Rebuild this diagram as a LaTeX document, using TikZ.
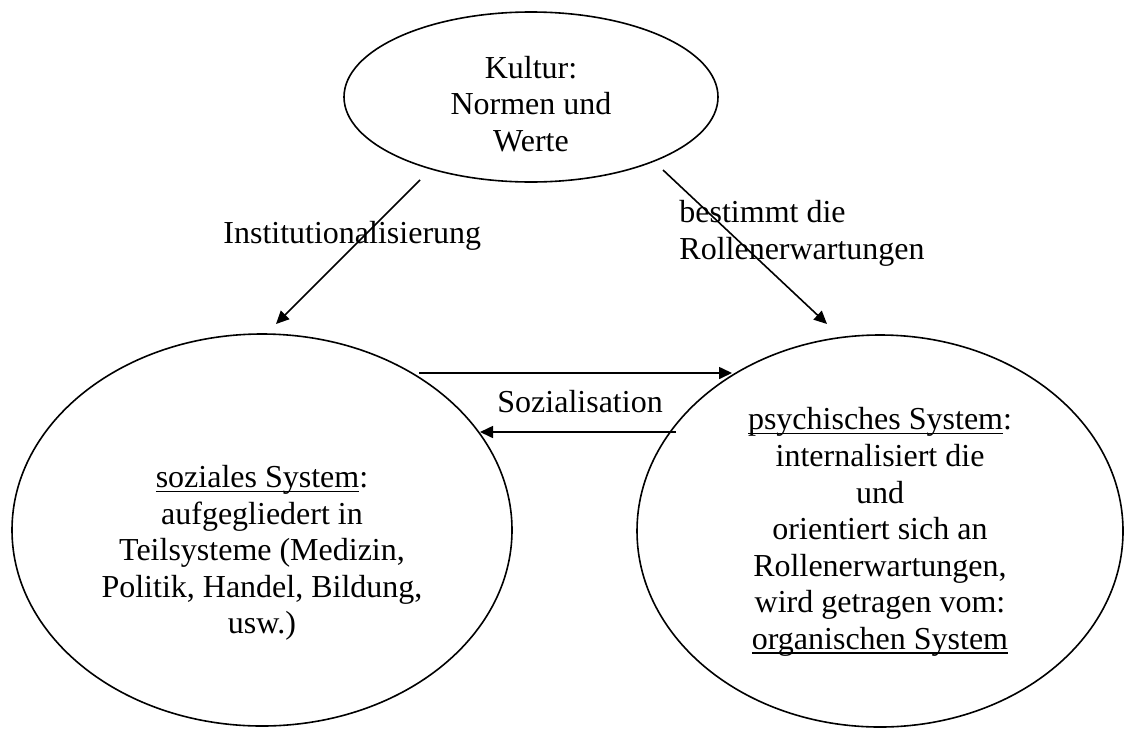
\documentclass[tikz,border=0pt]{standalone}
\usepackage{fontspec}
\setmainfont{Liberation Serif}
\usetikzlibrary{arrows.meta,positioning,shapes.geometric}
% underline close to the baseline
\newcommand{\undl}[1]{\setbox0\hbox{#1}\rlap{\rule[-2.2pt]{\wd0}{0.7pt}}\box0}

\begin{document}
\begin{tikzpicture}[
  x=0.5pt, y=-0.5pt,
  every node/.style={font=\fontsize{16}{18.3}\selectfont},
  sys/.style={draw, ellipse, line width=0.8pt, inner sep=0pt},
  txt/.style={align=center, inner sep=0pt},
  lbl/.style={inner sep=0pt},
  arr/.style={-{Triangle[length=6.5pt,width=6pt]}, line width=0.8pt}
]
\useasboundingbox (0,0) rectangle (1138,728);
% ellipses
\node[sys, minimum width=187pt, minimum height=85pt] (kultur) at (531,97) {};
\node[sys, minimum width=250pt, minimum height=196pt] (sozial) at (262,530) {};
\node[sys, minimum width=243pt, minimum height=196pt] (psych) at (880,531) {};
% texts in the ellipses
\node[txt] (kulturtxt) at (531,104) {Kultur:\\ Normen und\\ Werte};
\node[txt] (sozialtxt) at (262,553) {\undl{soziales System}:\\ aufgegliedert in\\
  Teilsysteme (Medizin,\\ Politik, Handel, Bildung,\\ usw.)};
\node[txt] (psychtxt) at (880,532) {\undl{psychisches System}:\\ internalisiert die\\ und\\
  orientiert sich an\\ Rollenerwartungen,\\ wird getragen vom:\\ \undl{organischen System}};
% arrow ends
\coordinate (i1) at (420,180);
\coordinate (i2) at (276,324);
\coordinate (b1) at (663,170);
\coordinate (b2) at (827,324);
\coordinate (s1) at (419,373);
\coordinate (s2) at (732,373);
\coordinate (s3) at (676,432);
\coordinate (s4) at (480,432);
% labels
\node[lbl, anchor=base west] (inst) at (223,243) {Institutionalisierung};
\node[lbl, anchor=north west, align=left] (best) at (679,200) {bestimmt die\\ Rollenerwartungen};
\node[lbl, anchor=base west] (sozlbl) at (497,412) {Sozialisation};
% arrows
\foreach \a/\b in {i1/i2, b1/b2, s1/s2, s3/s4}
  \draw[arr] (\a) -- (\b);
\end{tikzpicture}
\end{document}
